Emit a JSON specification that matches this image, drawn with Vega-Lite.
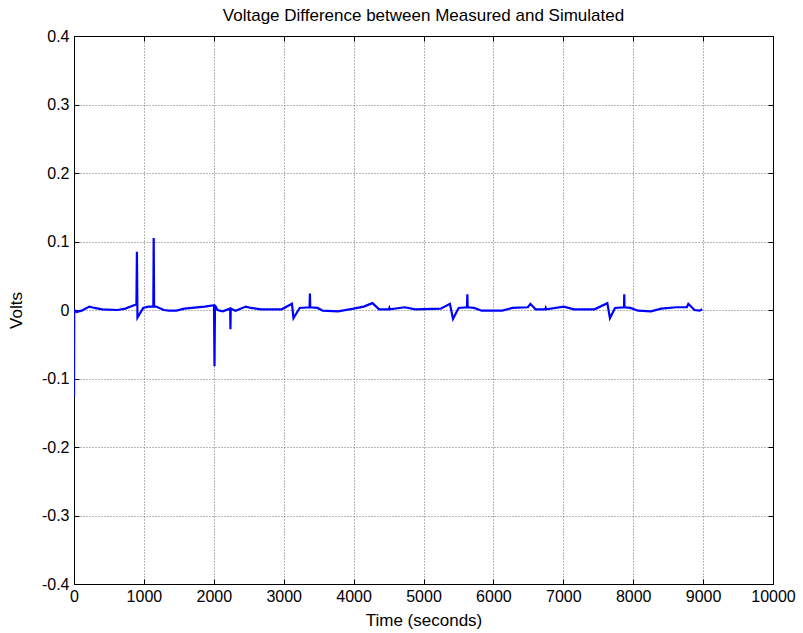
{
  "$schema": "https://vega.github.io/schema/vega-lite/v6.json",
  "autosize": {"type": "none"},
  "width": 699,
  "height": 548,
  "padding": {"left": 74, "top": 36, "right": 30, "bottom": 49},
  "background": "white",
  "title": {"text": "Voltage Difference between Measured and Simulated", "font": "Liberation Sans", "fontSize": 17, "fontWeight": "normal", "color": "black", "anchor": "middle", "frame": "group", "offset": 3},
  "config": {
    "view": {"stroke": "black", "strokeWidth": 1},
    "axis": {"labelFont": "Liberation Sans", "titleFont": "Liberation Sans", "labelFontSize": 16, "titleFontSize": 17, "titleFontWeight": "normal", "labelColor": "black", "titleColor": "black", "domainColor": "black", "tickColor": "black", "gridColor": "#6e6e6e", "gridDash": [1, 2], "gridWidth": 1, "gridOpacity": 1}
  },
  "data": {"values": [
    {"t": 0, "v": -0.127}, {"t": 3, "v": 0.0}, {"t": 37, "v": -0.003}, {"t": 110, "v": -0.001}, {"t": 220, "v": 0.005}, {"t": 293, "v": 0.003}, {"t": 403, "v": 0.001}, {"t": 624, "v": 0.0}, {"t": 734, "v": 0.002}, {"t": 858, "v": 0.007}, {"t": 893, "v": 0.008}, {"t": 900, "v": 0.085}, {"t": 908, "v": -0.011}, {"t": 990, "v": 0.003}, {"t": 1064, "v": 0.005}, {"t": 1135, "v": 0.005}, {"t": 1140, "v": 0.105}, {"t": 1146, "v": 0.005}, {"t": 1174, "v": 0.005}, {"t": 1284, "v": 0.0}, {"t": 1357, "v": -0.001}, {"t": 1467, "v": -0.001}, {"t": 1577, "v": 0.002}, {"t": 1871, "v": 0.005}, {"t": 2003, "v": 0.007}, {"t": 2010, "v": -0.082}, {"t": 2017, "v": 0.007}, {"t": 2054, "v": 0.0}, {"t": 2128, "v": -0.002}, {"t": 2234, "v": 0.002}, {"t": 2238, "v": -0.028}, {"t": 2242, "v": 0.002}, {"t": 2311, "v": -0.001}, {"t": 2458, "v": 0.005}, {"t": 2531, "v": 0.003}, {"t": 2678, "v": 0.001}, {"t": 2971, "v": 0.001}, {"t": 3118, "v": 0.009}, {"t": 3140, "v": -0.012}, {"t": 3228, "v": 0.003}, {"t": 3370, "v": 0.004}, {"t": 3375, "v": 0.024}, {"t": 3380, "v": 0.004}, {"t": 3485, "v": 0.003}, {"t": 3558, "v": -0.001}, {"t": 3778, "v": -0.002}, {"t": 3999, "v": 0.002}, {"t": 4145, "v": 0.005}, {"t": 4270, "v": 0.01}, {"t": 4365, "v": 0.001}, {"t": 4505, "v": 0.001}, {"t": 4512, "v": 0.003}, {"t": 4520, "v": 0.001}, {"t": 4732, "v": 0.004}, {"t": 4879, "v": 0.001}, {"t": 5246, "v": 0.002}, {"t": 5378, "v": 0.009}, {"t": 5422, "v": -0.013}, {"t": 5502, "v": 0.003}, {"t": 5622, "v": 0.004}, {"t": 5627, "v": 0.023}, {"t": 5632, "v": 0.004}, {"t": 5723, "v": 0.003}, {"t": 5833, "v": -0.001}, {"t": 6126, "v": -0.001}, {"t": 6273, "v": 0.003}, {"t": 6493, "v": 0.004}, {"t": 6530, "v": 0.009}, {"t": 6603, "v": 0.001}, {"t": 6745, "v": 0.001}, {"t": 6750, "v": 0.003}, {"t": 6758, "v": 0.001}, {"t": 7007, "v": 0.005}, {"t": 7153, "v": 0.001}, {"t": 7447, "v": 0.001}, {"t": 7630, "v": 0.01}, {"t": 7667, "v": -0.012}, {"t": 7740, "v": 0.003}, {"t": 7868, "v": 0.004}, {"t": 7872, "v": 0.023}, {"t": 7876, "v": 0.004}, {"t": 7960, "v": 0.003}, {"t": 8070, "v": -0.001}, {"t": 8254, "v": -0.002}, {"t": 8400, "v": 0.002}, {"t": 8620, "v": 0.004}, {"t": 8767, "v": 0.004}, {"t": 8789, "v": 0.009}, {"t": 8877, "v": 0.0}, {"t": 8951, "v": -0.001}, {"t": 8987, "v": 0.001}
  ]},
  "layer": [
    {
      "mark": {"type": "line", "color": "#0000ff", "strokeWidth": 2.2, "clip": true},
      "encoding": {
        "x": {"field": "t", "type": "quantitative", "scale": {"domain": [0, 10000], "nice": false, "zero": false},
          "axis": {"orient": "bottom", "title": "Time (seconds)", "values": [0, 1000, 2000, 3000, 4000, 5000, 6000, 7000, 8000, 9000, 10000], "format": "d", "tickSize": -5, "labelPadding": 9, "titlePadding": 8, "labelFlush": false, "labelOverlap": false}},
        "y": {"field": "v", "type": "quantitative", "scale": {"domain": [-0.4, 0.4], "nice": false, "zero": false},
          "axis": {"orient": "left", "title": "Volts", "values": [-0.4, -0.3, -0.2, -0.1, 0, 0.1, 0.2, 0.3, 0.4], "labelExpr": "datum.value < 0 ? '-' + format(-datum.value, '.1~f') : format(datum.value, '.1~f')", "tickSize": -5, "labelPadding": 10, "titlePadding": 16, "labelFlush": false, "labelOverlap": false}}
      }
    },
    {
      "mark": {"type": "line", "strokeOpacity": 0},
      "encoding": {
        "x": {"field": "t", "type": "quantitative", "scale": {"domain": [0, 10000], "nice": false, "zero": false},
          "axis": {"orient": "top", "title": null, "labels": false, "grid": false, "values": [0, 1000, 2000, 3000, 4000, 5000, 6000, 7000, 8000, 9000, 10000], "tickSize": -5}},
        "y": {"field": "v", "type": "quantitative", "scale": {"domain": [-0.4, 0.4], "nice": false, "zero": false},
          "axis": {"orient": "right", "title": null, "labels": false, "grid": false, "values": [-0.4, -0.3, -0.2, -0.1, 0, 0.1, 0.2, 0.3, 0.4], "tickSize": -5}}
      }
    }
  ],
  "resolve": {"axis": {"x": "independent", "y": "independent"}}
}
